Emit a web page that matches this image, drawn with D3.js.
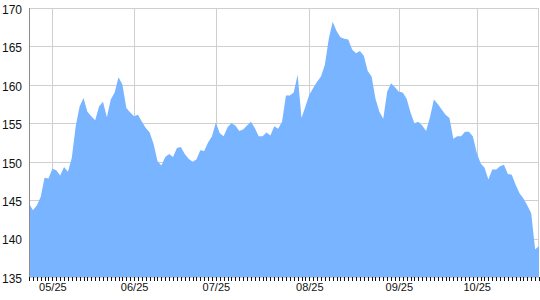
<!DOCTYPE html>
<html>
<head>
<meta charset="utf-8">
<script src="https://cdn.jsdelivr.net/npm/d3@7"></script>
<style>
  body { margin: 0; background: #fff; }
</style>
</head>
<body>
<div id="chart"></div>
<script>
// daily closing values, one per trading day
const values = [
  144.6, 143.7, 144.3, 145.4, 147.9, 147.8, 149.1, 148.9, 148.2, 149.3,
  148.7, 150.5, 154.6, 157.2, 158.3, 156.5, 155.9, 155.4, 157.2, 157.8,
  155.8, 158.1, 159.0, 161.0, 160.0, 157.0, 156.4, 155.9, 156.1, 155.2,
  154.4, 153.8, 152.3, 150.1, 149.5, 150.6, 151.0, 150.6, 151.8, 151.9,
  151.0, 150.4, 150.0, 150.3, 151.5, 151.4, 152.5, 153.3, 155.1, 153.7,
  153.3, 154.5, 155.0, 154.7, 154.0, 154.2, 154.7, 155.2, 154.4, 153.3,
  153.3, 153.8, 153.4, 154.6, 154.3, 155.2, 158.6, 158.6, 159.0, 161.3,
  155.7, 157.2, 158.7, 159.6, 160.4, 161.1, 162.6, 166.0, 168.2, 167.0,
  166.2, 166.0, 165.9, 164.6, 164.1, 164.4, 163.8, 161.8, 161.1, 158.2,
  156.5, 155.6, 159.1, 160.2, 159.7, 159.1, 159.0, 158.2, 156.4, 155.0,
  155.2, 154.7, 154.0, 155.8, 158.1, 157.5, 156.8, 156.1, 155.7, 153.0,
  153.3, 153.3, 153.9, 153.9, 153.3, 151.2, 149.8, 149.2, 147.7, 149.0,
  149.0, 149.4, 149.6, 148.4, 148.3, 147.0, 145.9, 145.2, 144.3, 143.3,
  138.6, 139.0
];
const xTickIndex = [6, 27, 48, 72, 95, 115];
const xTickLabels = ["05/25", "06/25", "07/25", "08/25", "09/25", "10/25"];
const yTicks = [135, 140, 145, 150, 155, 160, 165, 170];

const width = 540, height = 300;
const margin = { top: 8, right: 1, bottom: 23, left: 29 };
const font = "'Liberation Sans', Arial, sans-serif";

const svg = d3.select("#chart").append("svg")
    .attr("width", width)
    .attr("height", height);

const x = d3.scaleLinear()
    .domain([0, values.length - 1])
    .range([margin.left, width - margin.right]);

const y = d3.scaleLinear()
    .domain([yTicks[0], yTicks[yTicks.length - 1]])
    .range([height - margin.bottom, margin.top]);

// grid
const grid = svg.append("g").attr("shape-rendering", "crispEdges").attr("stroke", "#cfcfcf");
grid.selectAll(".hgrid").data(yTicks).enter().append("line")
    .attr("x1", margin.left).attr("x2", width - margin.right)
    .attr("y1", d => Math.round(y(d)) + 0.5).attr("y2", d => Math.round(y(d)) + 0.5);
grid.selectAll(".vgrid").data(xTickIndex).enter().append("line")
    .attr("x1", d => Math.round(x(d)) + 0.5).attr("x2", d => Math.round(x(d)) + 0.5)
    .attr("y1", margin.top).attr("y2", height - margin.bottom);
grid.append("line")
    .attr("x1", width - margin.right - 0.5).attr("x2", width - margin.right - 0.5)
    .attr("y1", margin.top).attr("y2", height - margin.bottom);

// area
const area = d3.area()
    .x((d, i) => x(i))
    .y0(y(yTicks[0]))
    .y1(d => y(d));

svg.append("path")
    .datum(values)
    .attr("d", area)
    .attr("fill", "#78b4ff");

// left axis line
svg.append("line")
    .attr("x1", margin.left + 0.5).attr("x2", margin.left + 0.5)
    .attr("y1", margin.top).attr("y2", height - margin.bottom)
    .attr("stroke", "#8c8c8c").attr("shape-rendering", "crispEdges");

// minor ticks, one per day
const minor = svg.append("g")
    .attr("transform", `translate(0, ${height - margin.bottom})`)
    .call(d3.axisBottom(x).tickValues(d3.range(values.length)).tickSize(4).tickFormat(""));
minor.select(".domain").remove();
minor.selectAll("line").attr("stroke", "#111").attr("shape-rendering", "crispEdges");

// month labels
const xAxis = svg.append("g")
    .attr("transform", `translate(0, ${height - margin.bottom})`)
    .call(d3.axisBottom(x).tickValues(xTickIndex).tickSize(0).tickPadding(6)
        .tickFormat((d, i) => xTickLabels[i]));
xAxis.select(".domain").remove();
xAxis.selectAll("text").attr("fill", "#111").style("font-family", font).style("font-size", "11px");

// y labels
const yAxis = svg.append("g")
    .attr("transform", `translate(${margin.left}, 0)`)
    .call(d3.axisLeft(y).tickValues(yTicks).tickSize(0).tickPadding(7));
yAxis.select(".domain").remove();
yAxis.selectAll("text").attr("fill", "#111").attr("dy", "0.45em")
    .style("font-family", font).style("font-size", "12px");
</script>
</body>
</html>
